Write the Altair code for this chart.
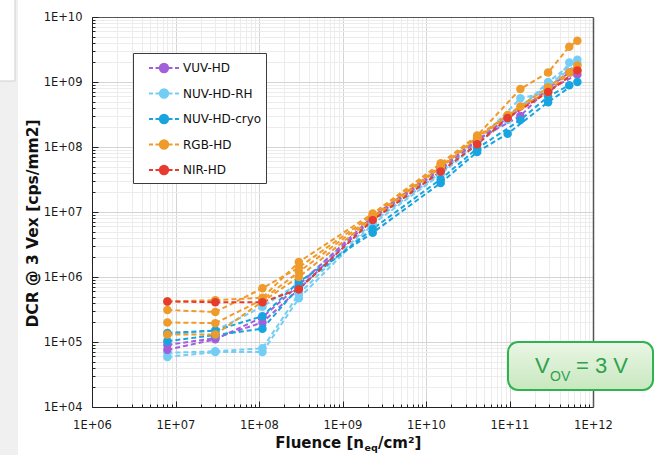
import altair as alt
import pandas as pd

# ---------------- data ----------------
TYPES = ["VUV-HD", "NUV-HD-RH", "NUV-HD-cryo", "RGB-HD", "NIR-HD"]
COLORS = ["#a35fdb", "#74cdf4", "#17a4df", "#ef9b2b", "#e63b2e"]

F_A = [8e6, 3e7, 1.1e8, 3e8, 2.3e9, 1.5e10, 4.1e10, 9.5e10, 2.9e11, 6.5e11]
F_B = [8e6, 3e7, 1.1e8, 3e8, 2.3e9, 1.5e10, 4.1e10, 1.35e11, 2.9e11, 5.2e11]
F_C = [8e6, 3e7, 1.1e8, 3e8, 2.3e9, 1.5e10, 4.1e10, 1.35e11, 2.9e11, 5.2e11, 6.5e11]

NUV_RH_1 = [5.9e4, 7.0e4, 7.0e4, 4.7e5, 6.5e6, 3.8e7, 1.1e8, 2.6e8, 1.0e9, 2.2e9]
NUV_RH_2 = [6.8e4, 7.2e4, 8.0e4, 5.5e5, 7.0e6, 4.0e7, 1.2e8, 5.6e8, 7.0e8, 2.0e9]
NUV_RH_3 = [1.3e5, 1.5e5, 3.5e5, 8.0e5, 7.5e6, 4.2e7, 1.2e8, 3.0e8, 9.0e8, 1.9e9]
VUV_1 = [9.0e4, 1.15e5, 2.0e5, 6.5e5, 8.0e6, 4.5e7, 1.25e8, 2.8e8, 7.5e8, 1.3e9]
VUV_2 = [7.6e4, 1.1e5, 2.4e5, 7.5e5, 8.5e6, 4.8e7, 1.3e8, 3.0e8, 8.0e8, 1.4e9]
CRYO_1 = [1.38e5, 1.5e5, 2.5e5, 8.4e5, 4.8e6, 2.8e7, 8.4e7, 1.6e8, 4.9e8, 1.0e9]
CRYO_2 = [1.03e5, 1.28e5, 1.6e5, 7.0e5, 5.5e6, 3.2e7, 9.5e7, 2.6e8, 6.0e8, 8.9e8]
RGB_1 = [4.2e5, 4.4e5, 4.8e5, 1.7e6, 9.5e6, 5.6e7, 1.5e8, 7.8e8, 1.4e9, 3.5e9, 4.3e9]
RGB_2 = [3.1e5, 2.9e5, 6.7e5, 1.4e6, 9.0e6, 5.3e7, 1.45e8, 3.1e8, 8.3e8, 1.8e9]
RGB_3 = [2.0e5, 1.95e5, 4.5e5, 1.2e6, 8.5e6, 5.0e7, 1.4e8, 4.2e8, 7.0e8, 1.4e9]
RGB_4 = [1.3e5, 1.3e5, 4.2e5, 1.0e6, 8.0e6, 4.8e7, 1.35e8, 3.0e8, 7.0e8, 1.5e9]
NIR_1 = [4.2e5, 4.1e5, 4.1e5, 6.5e5, 7.5e6, 4.2e7, 1.1e8, 2.8e8, 7.0e8, 1.5e9]

SERIES = [
    ("NUV-HD-RH 1", "NUV-HD-RH", F_A, NUV_RH_1),
    ("NUV-HD-RH 2", "NUV-HD-RH", F_B, NUV_RH_2),
    ("NUV-HD-RH 3", "NUV-HD-RH", F_A, NUV_RH_3),
    ("VUV-HD 1", "VUV-HD", F_A, VUV_1),
    ("VUV-HD 2", "VUV-HD", F_B, VUV_2),
    ("NUV-HD-cryo 1", "NUV-HD-cryo", F_A, CRYO_1),
    ("NUV-HD-cryo 2", "NUV-HD-cryo", F_B, CRYO_2),
    ("RGB-HD 1", "RGB-HD", F_C, RGB_1),
    ("RGB-HD 2", "RGB-HD", F_A, RGB_2),
    ("RGB-HD 3", "RGB-HD", F_B, RGB_3),
    ("RGB-HD 4", "RGB-HD", F_A, RGB_4),
    ("NIR-HD 1", "NIR-HD", F_A, NIR_1),
]

rows = []
for name, typ, fl, vals in SERIES:
    for f, v in zip(fl, vals):
        rows.append({"series": name, "type": typ, "fluence": f, "dcr": v})
df = pd.DataFrame(rows)

X_TICKS = [k * 10.0 ** n for n in range(6, 12) for k in range(1, 10)] + [1e12]
Y_TICKS = [k * 10.0 ** n for n in range(4, 10) for k in range(1, 10)] + [1e10]

# ---------------- styling ----------------
W, H = 501, 390
FONT = "DejaVu Sans"
IS_MAJOR = "abs(log(datum.value)/LN10 - round(log(datum.value)/LN10)) < 0.001"
LABEL = ("(" + IS_MAJOR + ") ? '1E+' + (round(log(datum.value)/LN10) < 10 ? '0' : '')"
         " + round(log(datum.value)/LN10) : ''")

x_scale = alt.Scale(type="log", domain=[1e6, 1e12], nice=False)
y_scale = alt.Scale(type="log", domain=[1e4, 1e10], nice=False)
color_scale = alt.Scale(domain=TYPES, range=COLORS)

grid_color = {"condition": {"test": IS_MAJOR, "value": "#d4d4d4"}, "value": "#ececec"}
tick_size = {"condition": {"test": IS_MAJOR, "value": 6}, "value": 3}

grid_layer = alt.Chart(df).mark_point(opacity=0).encode(
    x=alt.X("fluence:Q", scale=x_scale, axis=alt.Axis(
        orient="bottom", values=X_TICKS, grid=True, gridColor=grid_color, gridWidth=1,
        ticks=False, tickSize=0, labelExpr=LABEL, labelOverlap=False, labelFlush=False,
        labelPadding=12, labelFont=FONT, labelFontSize=11.5, labelColor="#1a1a1a",
        domain=True, domainColor="#222222", domainWidth=1, title=None)),
    y=alt.Y("dcr:Q", scale=y_scale, axis=alt.Axis(
        orient="left", values=Y_TICKS, grid=True, gridColor=grid_color, gridWidth=1,
        ticks=False, tickSize=0, labelExpr=LABEL, labelOverlap=False, labelFlush=False,
        labelPadding=10, labelFont=FONT, labelFontSize=11.5, labelColor="#1a1a1a",
        domain=True, domainColor="#222222", domainWidth=1,
        title="DCR @ 3 Vex [cps/mm2]", titleFont=FONT, titleFontSize=15.5,
        titleFontWeight="bold", titleColor="#111111", titleX=-60, titleY=206,
        titleAngle=270, titleAlign="center", titleBaseline="middle")),
)

tick_layer = alt.Chart(df).mark_point(opacity=0).encode(
    x=alt.X("fluence:Q", scale=x_scale, axis=alt.Axis(
        orient="top", offset=-H, values=X_TICKS, grid=False, ticks=True,
        tickSize=tick_size, tickColor="#222222", labels=False, domain=False, title=None)),
    y=alt.Y("dcr:Q", scale=y_scale, axis=alt.Axis(
        orient="right", offset=-W, values=Y_TICKS, grid=False, ticks=True,
        tickSize=tick_size, tickColor="#222222", labels=False, domain=False, title=None)),
)

border_layer = alt.Chart(df).mark_point(opacity=0).encode(
    x=alt.X("fluence:Q", scale=x_scale, axis=alt.Axis(
        orient="top", grid=False, ticks=False, labels=False, domain=True,
        domainColor="#555555", domainWidth=1.2, title=None)),
    y=alt.Y("dcr:Q", scale=y_scale, axis=alt.Axis(
        orient="right", grid=False, ticks=False, labels=False, domain=True,
        domainColor="#555555", domainWidth=1.5, title=None)),
)

# legend: dashed line with a (ring-filled) circle marker
SYMBOL = ("M-1.5 0L-1.1 0M-0.85 0L-0.45 0M0.45 0L0.85 0M1.1 0L1.5 0"
          "M0.42 0A0.42 0.42 0 1 1 -0.42 0A0.42 0.42 0 1 1 0.42 0"
          "M0.22 0A0.22 0.22 0 1 1 -0.22 0A0.22 0.22 0 1 1 0.22 0"
          "M0.06 0A0.06 0.06 0 1 1 -0.06 0A0.06 0.06 0 1 1 0.06 0")

NBSP = "\u00a0" * 4
LEGEND = alt.Legend(
    title=None, orient="none", legendX=41, legendY=36,
    symbolType=SYMBOL, symbolSize=400, symbolStrokeWidth=2, symbolOffset=16,
    symbolOpacity=1, labelOffset=8, labelFont=FONT, labelFontSize=12,
    labelExpr="datum.label + '" + NBSP + "'",
    labelColor="#111111", rowPadding=5.5, padding=4, fillColor="white",
    strokeColor="#3c3c3c")

legend_layer = alt.Chart(df).mark_line(opacity=0, strokeWidth=2).encode(
    x=alt.X("fluence:Q", scale=x_scale, axis=None),
    y=alt.Y("dcr:Q", scale=y_scale, axis=None),
    color=alt.Color("type:N", scale=color_scale, legend=LEGEND),
    detail="series:N",
)

lines = alt.Chart(df).mark_line(strokeDash=[5, 3], strokeWidth=2).encode(
    x=alt.X("fluence:Q", scale=x_scale, axis=None),
    y=alt.Y("dcr:Q", scale=y_scale, axis=None),
    color=alt.Color("type:N", scale=color_scale, legend=LEGEND),
    detail="series:N",
    order="fluence:Q",
)

points = alt.Chart(df).mark_circle(size=72, opacity=1).encode(
    x=alt.X("fluence:Q", scale=x_scale, axis=None),
    y=alt.Y("dcr:Q", scale=y_scale, axis=None),
    color=alt.Color("type:N", scale=color_scale, legend=LEGEND),
)

one = pd.DataFrame({"a": [0]})

# x-axis title with subscript / superscript
XT_Y = 431
XT_N = 272
xt1 = alt.Chart(one).mark_text(text="Fluence [n", font=FONT, fontSize=15, fontWeight="bold",
                               align="right", baseline="alphabetic", color="#111111").encode(
    x=alt.value(XT_N), y=alt.value(XT_Y))
xt2 = alt.Chart(one).mark_text(text="eq", font=FONT, fontSize=9.5, fontWeight="bold",
                               align="left", baseline="alphabetic", color="#111111").encode(
    x=alt.value(XT_N + 0.5), y=alt.value(XT_Y + 3))
xt3 = alt.Chart(one).mark_text(text="/cm²]", font=FONT, fontSize=15, fontWeight="bold",
                               align="left", baseline="alphabetic", color="#111111").encode(
    x=alt.value(XT_N + 14), y=alt.value(XT_Y))

# V_OV annotation box
box = alt.Chart(one).mark_rect(
    cornerRadius=10, stroke="#2fb24f", strokeWidth=2,
    fill=alt.Gradient(gradient="linear",
                      stops=[alt.GradientStop(color="#eaf6e5", offset=0),
                             alt.GradientStop(color="#c8e8bf", offset=1)],
                      x1=0, x2=0, y1=0, y2=1)).encode(
    x=alt.value(416), x2=alt.value(561), y=alt.value(325), y2=alt.value(373))
GREEN = "#2fa24c"
vt1 = alt.Chart(one).mark_text(text="V", font="Liberation Sans", fontSize=22, align="left",
                               baseline="alphabetic", color=GREEN).encode(
    x=alt.value(443), y=alt.value(356))
vt2 = alt.Chart(one).mark_text(text="OV", font="Liberation Sans", fontSize=14, align="left",
                               baseline="alphabetic", color=GREEN).encode(
    x=alt.value(458), y=alt.value(364))
vt3 = alt.Chart(one).mark_text(text="= 3 V", font="Liberation Sans", fontSize=22, align="left",
                               baseline="alphabetic", color=GREEN).encode(
    x=alt.value(484), y=alt.value(356))

# left-edge page decoration
strip = alt.Chart(one).mark_rect(fill="#f0f0f0").encode(
    x=alt.value(-92), x2=alt.value(-74), y=alt.value(-17), y2=alt.value(438))
strip_top = alt.Chart(one).mark_rect(fill="white", stroke="#d0d0d0", strokeWidth=1).encode(
    x=alt.value(-93), x2=alt.value(-77), y=alt.value(-18), y2=alt.value(64))

chart = alt.layer(
    strip, strip_top, grid_layer, tick_layer, border_layer, legend_layer, lines, points,
    xt1, xt2, xt3, box, vt1, vt2, vt3,
).resolve_axis(x="independent", y="independent").properties(
    width=W, height=H,
    autosize=alt.AutoSizeParams(type="none"),
    padding={"left": 92, "top": 17, "right": 63, "bottom": 48},
    background="white",
).configure_view(stroke=None)

chart.save("out.html", embed_options={"renderer": "svg", "actions": False})
